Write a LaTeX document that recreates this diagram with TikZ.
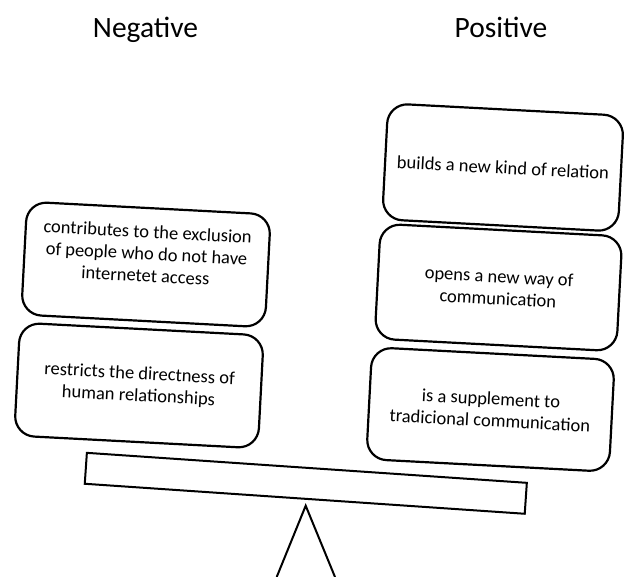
\documentclass[tikz,border=0pt]{standalone}
\usepackage{fontspec}
\setmainfont{Carlito}
\begin{document}
\begin{tikzpicture}[x=1pt,y=-1pt,
  header/.style={anchor=base,font=\fontsize{29.5}{35}\selectfont},
  card/.style={draw,line width=2.2pt,rounded corners=20pt,minimum width=244pt,
    minimum height=113pt,align=center,inner sep=0pt,rotate=-3,
    font=\fontsize{18.5}{22}\selectfont},
  beam/.style={draw,line width=2pt,minimum width=441pt,minimum height=31pt,
    inner sep=0pt,rotate=-3.9},
  stand/.style={line width=2pt}]
\useasboundingbox (0,0) rectangle (624,577);
\node[header] (neg) at (145.5,37.7) {Negative};
\node[header] (pos) at (501,37.7) {Positive};
\node[card] (l1) at (146,264.5) {contributes to the exclusion\\of people who do not have\\internetet access\\\mbox{}};
\node[card] (l2) at (139,385.5) {restricts the directness of\\human relationships};
\node[card,minimum width=236pt,minimum height=116pt] (r1) at (503,167.5) {builds a new kind of relation};
\node[card,minimum width=242pt,minimum height=115pt] (r2) at (498.5,287.5) {opens a new way of\\communication};
\node[card,minimum width=243pt,minimum height=112pt] (r3) at (490.5,409.5) {is a supplement to\\tradicional communication};
\node[beam] (b) at (305.8,483.3) {};
\coordinate (apex) at (305.7,505.7);
\coordinate (fl) at (276.7,577);
\coordinate (fr) at (335,577);
\draw[stand] (fl) -- (apex) -- (fr);
\end{tikzpicture}
\end{document}
